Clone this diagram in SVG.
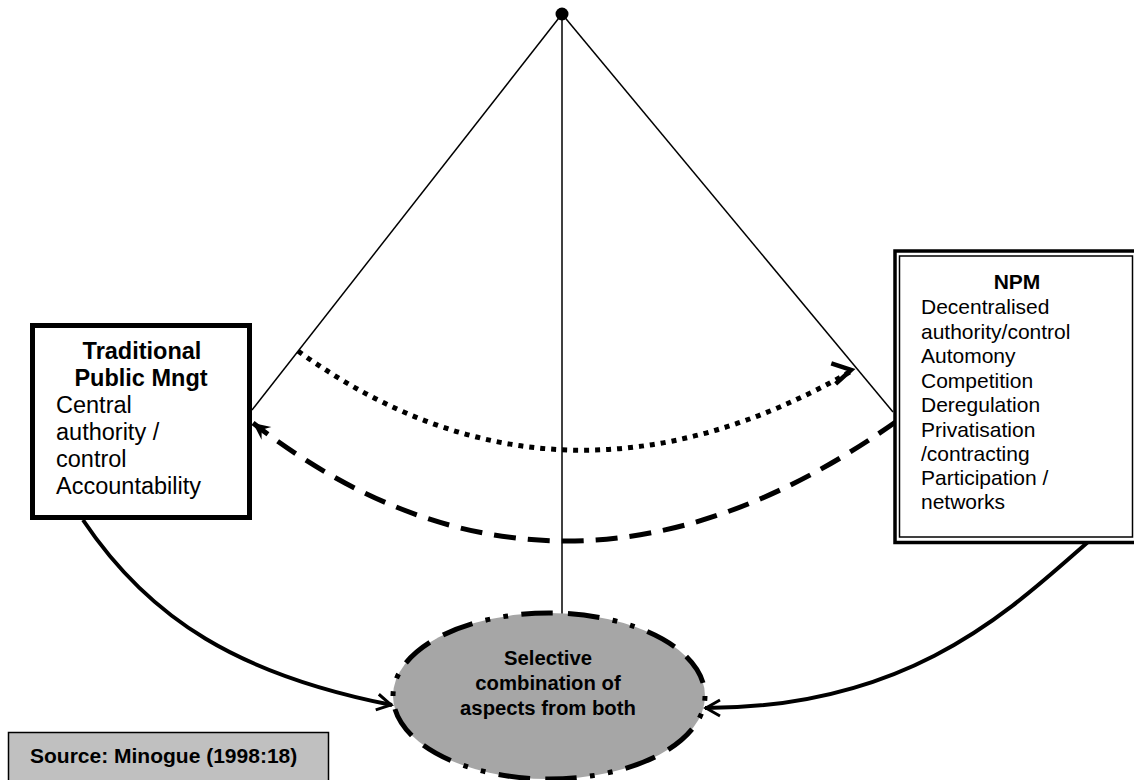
<svg xmlns="http://www.w3.org/2000/svg" width="1134" height="780" viewBox="0 0 1134 780">
  <style>
    text { font-family: "Liberation Sans", Arial, sans-serif; fill: #000; }
    .bold { font-weight: bold; }
    .tpm { font-size: 23.5px; }
    .npm { font-size: 21px; }
    .mix { font-size: 20.3px; font-weight: bold; }
    .src { font-size: 21px; font-weight: bold; }
    .thin { fill: none; stroke: #000; stroke-width: 1.5; }
    .curve { fill: none; stroke: #000; stroke-width: 4; }
    .dotted { fill: none; stroke: #000; stroke-width: 5; stroke-dasharray: 5 6; }
    .dashed { fill: none; stroke: #000; stroke-width: 5; stroke-dasharray: 22 12; }
  </style>
  <defs>
    <!-- open chevron head for the dotted arc, held at a fixed tilt -->
    <marker id="vee" markerUnits="userSpaceOnUse" viewBox="-30 -16 34 32" markerWidth="34" markerHeight="32" refX="0" refY="0" orient="-12" overflow="visible">
      <path d="M-22,-10.5 L-4,0 L-22,10.5" fill="none" stroke="#000" stroke-width="4.5"/>
    </marker>
    <marker id="stealth" markerUnits="userSpaceOnUse" viewBox="-20 -10 22 20" markerWidth="22" markerHeight="20" refX="0" refY="0" orient="auto" overflow="visible">
      <path d="M0,0 L-17,-8 L-11,0 L-17,8 Z" fill="#000"/>
    </marker>
    <marker id="barb" markerUnits="userSpaceOnUse" viewBox="-18 -10 20 20" markerWidth="20" markerHeight="20" refX="0" refY="0" orient="auto" overflow="visible">
      <path d="M-15,-8 L-1,0 L-15,8" fill="none" stroke="#000" stroke-width="3"/>
    </marker>
  </defs>

  <!-- connectors -->
  <g id="connectors">
    <line class="thin" x1="562" y1="14" x2="252" y2="410"/>
    <line class="thin" x1="562" y1="14" x2="893" y2="412"/>
    <line class="thin" x1="562" y1="14" x2="562" y2="616"/>
    <path class="dotted" d="M298,351 Q560,540 855,369" marker-end="url(#vee)"/>
    <path class="dashed" d="M897,421 Q560,660 253,423" marker-end="url(#stealth)"/>
    <path class="curve" d="M83,520 C150,620 240,675 392,705" marker-end="url(#barb)"/>
    <path class="curve" d="M1088,542 C1010,610 910,708 705,708" marker-end="url(#barb)"/>
  </g>

  <!-- apex point -->
  <g id="apex">
    <circle cx="562" cy="14" r="6.5" fill="#000"/>
  </g>

  <!-- traditional public management -->
  <g id="tpm">
    <rect x="32.5" y="325.5" width="217" height="192" fill="#fff" stroke="#000" stroke-width="5"/>
    <text class="tpm bold" x="142" y="359" text-anchor="middle">Traditional</text>
    <text class="tpm bold" x="141" y="386" text-anchor="middle">Public Mngt</text>
    <text class="tpm" x="56" y="413">Central</text>
    <text class="tpm" x="56" y="440">authority /</text>
    <text class="tpm" x="56" y="467">control</text>
    <text class="tpm" x="56" y="494">Accountability</text>
  </g>

  <!-- new public management -->
  <g id="npm">
    <rect x="895" y="251" width="250" height="291.5" fill="#fff" stroke="#000" stroke-width="3.5"/>
    <rect x="899.5" y="256" width="233" height="281" fill="none" stroke="#000" stroke-width="1.5"/>
    <text class="npm bold" x="1017" y="289" text-anchor="middle" font-size="22">NPM</text>
    <text class="npm" x="921" y="314">Decentralised</text>
    <text class="npm" x="921" y="339">authority/control</text>
    <text class="npm" x="921" y="363">Automony</text>
    <text class="npm" x="921" y="388">Competition</text>
    <text class="npm" x="921" y="412">Deregulation</text>
    <text class="npm" x="921" y="437">Privatisation</text>
    <text class="npm" x="921" y="461">/contracting</text>
    <text class="npm" x="921" y="485">Participation /</text>
    <text class="npm" x="921" y="509">networks</text>
  </g>

  <!-- combination ellipse -->
  <g id="mix">
    <path d="M549,613 A156,83 0 0 1 549,779 A156,83 0 0 1 549,613 Z" fill="#a6a6a6" stroke="#000" stroke-width="5" pathLength="804" stroke-dasharray="33 14 5 14 5 14 33 16" stroke-dashoffset="-20"/>
    <text class="mix" x="548" y="665" text-anchor="middle">Selective</text>
    <text class="mix" x="548" y="690" text-anchor="middle">combination of</text>
    <text class="mix" x="548" y="715" text-anchor="middle">aspects from both</text>
  </g>

  <!-- source note -->
  <g id="source">
    <rect x="8.5" y="732.5" width="320" height="60" fill="#c0c0c0" stroke="#000" stroke-width="1.5"/>
    <text class="src" x="30" y="763">Source: Minogue (1998:18)</text>
  </g>
</svg>
